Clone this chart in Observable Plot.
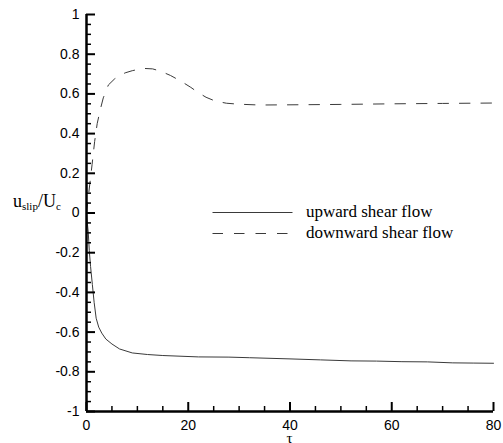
<!DOCTYPE html>
<html>
<head>
<meta charset="utf-8">
<script src="https://cdn.jsdelivr.net/npm/d3@7"></script>
<script src="https://cdn.jsdelivr.net/npm/@observablehq/plot@0.6"></script>
<style>
  html, body { margin: 0; padding: 0; background: #fff; }
  svg { display: block; }
</style>
</head>
<body>
<div id="chart"></div>
<script>
// τ values and u_slip/U_c for each series
const upTau   = [0, 0.2, 0.35, 0.55, 0.8, 1.15, 1.5, 1.9, 2.4, 3.0, 3.8, 5.0, 6.5, 9, 12, 15, 22, 28, 32, 40, 46, 52, 57, 62, 67, 72, 76, 80];
const upVal   = [0, -0.06, -0.1, -0.19, -0.27, -0.36, -0.45, -0.53, -0.575, -0.605, -0.635, -0.66, -0.685, -0.705, -0.713, -0.718, -0.725, -0.726, -0.729, -0.735, -0.74, -0.745, -0.746, -0.749, -0.75, -0.755, -0.756, -0.757];
const downTau = [0, 0.3, 0.65, 1.1, 1.6, 2.1, 2.7, 3.3, 4.3, 5.5, 6.7, 7.6, 9, 10.5, 11.5, 13, 14.5, 16.5, 18.5, 20.5, 22, 23.5, 25.3, 27.5, 30, 34, 40, 50, 60, 70, 80];
const downVal = [0, 0.07, 0.146, 0.245, 0.36, 0.45, 0.52, 0.58, 0.645, 0.675, 0.695, 0.706, 0.717, 0.725, 0.728, 0.726, 0.715, 0.693, 0.665, 0.633, 0.606, 0.583, 0.564, 0.553, 0.548, 0.544, 0.545, 0.547, 0.55, 0.552, 0.554];

const seriesNames = ["upward shear flow", "downward shear flow"];

// axis ticks
const xMajor = [0, 20, 40, 60, 80];
const xMinor = [5, 10, 15, 25, 30, 35, 45, 50, 55, 65, 70, 75];
const yMajor = [-1, -0.8, -0.6, -0.4, -0.2, 0, 0.2, 0.4, 0.6, 0.8, 1];
const yMinor = [-0.95, -0.9, -0.85, -0.75, -0.7, -0.65, -0.55, -0.5, -0.45, -0.35, -0.3, -0.25, -0.15, -0.1, -0.05,
                0.05, 0.1, 0.15, 0.25, 0.3, 0.35, 0.45, 0.5, 0.55, 0.65, 0.7, 0.75, 0.85, 0.9, 0.95];

const up = upTau.map((t, i) => ({tau: t, u: upVal[i]}));
const down = downTau.map((t, i) => ({tau: t, u: downVal[i]}));

const lineColor = "#3a3a3a";
const sans = "'Liberation Sans', Arial, sans-serif";
const serif = "'Liberation Serif', 'Times New Roman', serif";

const chart = Plot.plot({
  width: 503,
  height: 443,
  marginLeft: 86,
  marginRight: 10,
  marginTop: 14,
  marginBottom: 32,
  style: {fontFamily: sans, fontSize: "14px", color: "#000", background: "#fff"},
  x: {domain: [0, 80]},
  y: {domain: [-1, 1]},
  marks: [
    Plot.line(up, {x: "tau", y: "u", stroke: lineColor, strokeWidth: 1}),
    Plot.line(down, {x: "tau", y: "u", stroke: lineColor, strokeWidth: 1, strokeDasharray: "10.5,11"}),
    // inward ticks
    Plot.axisY(yMinor, {tickSize: -5, strokeWidth: 1.5, fill: "none", label: null, stroke: "#000"}),
    Plot.axisY(yMajor, {tickSize: -9, strokeWidth: 2, fill: "none", label: null, stroke: "#000"}),
    Plot.axisX(xMinor, {tickSize: -5, strokeWidth: 1.5, fill: "none", label: null, stroke: "#000"}),
    Plot.axisX(xMajor, {tickSize: -9, strokeWidth: 2, fill: "none", label: null, stroke: "#000"}),
    // tick labels
    Plot.axisY(yMajor, {tickSize: 0, tickPadding: 7, label: null, fontSize: 14, tickFormat: d => String(d), fill: "#000"}),
    Plot.axisX(xMajor, {tickSize: 0, tickPadding: 9, label: null, fontSize: 14, tickFormat: d => String(d), fill: "#000"}),
    // axis lines
    Plot.ruleX([0], {stroke: "#000", strokeWidth: 2.5}),
    Plot.ruleY([-1], {stroke: "#000", strokeWidth: 2.5})
  ]
});

const svg = d3.select(chart);

// y-axis title u_slip/U_c
const yt = svg.append("text")
  .attr("x", 13).attr("y", 207)
  .attr("text-anchor", "start")
  .attr("font-family", serif).attr("font-size", 18).attr("fill", "#000");
yt.append("tspan").text("u");
yt.append("tspan").attr("font-size", 11).attr("dy", 3).text("slip");
yt.append("tspan").attr("dy", -3).text("/U");
yt.append("tspan").attr("font-size", 11).attr("dy", 3).text("c");

// x-axis title τ
svg.append("text")
  .attr("x", 289.5).attr("y", 443)
  .attr("text-anchor", "middle")
  .attr("font-family", serif).attr("font-size", 15).attr("fill", "#000")
  .text("τ");

// legend
const legend = svg.append("g");
const rows = [{name: seriesNames[0], dash: null, y: 212.5}, {name: seriesNames[1], dash: "10.5,11", y: 233.5}];
rows.forEach(r => {
  legend.append("line")
    .attr("x1", 212.5).attr("x2", 292.5).attr("y1", r.y).attr("y2", r.y)
    .attr("stroke", lineColor).attr("stroke-width", 1)
    .attr("stroke-dasharray", r.dash);
  legend.append("text")
    .attr("x", 306).attr("y", r.y + 4.5)
    .attr("text-anchor", "start")
    .attr("font-family", serif).attr("font-size", 17).attr("fill", "#000")
    .text(r.name);
});

document.getElementById("chart").appendChild(chart);
</script>
</body>
</html>
